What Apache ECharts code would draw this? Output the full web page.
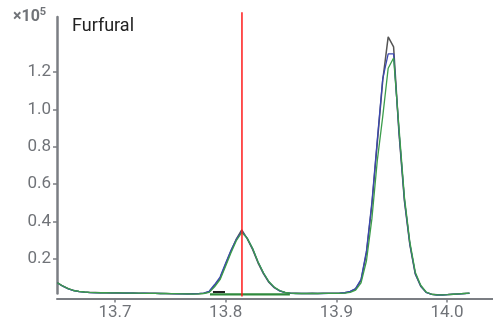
<!DOCTYPE html>
<html>
<head>
<meta charset="utf-8">
<script src="https://cdn.jsdelivr.net/npm/echarts@6/dist/echarts.min.js"></script>
<style>html,body{margin:0;padding:0;background:#fff}#c{width:493px;height:329px}</style>
</head>
<body>
<div id="c"></div>
<script>
const times = [13.6479,13.6528,13.6577,13.6626,13.6675,13.6724,13.6773,13.6822,13.6871,13.6920,13.6969,
13.7018,13.7067,13.7116,13.7165,13.7214,13.7263,13.7312,13.7361,13.7410,13.7459,
13.7508,13.7557,13.7606,13.7655,13.7704,13.7753,13.7802,13.7851,13.7900,13.7949,
13.7998,13.8047,13.8096,13.8145,13.8194,13.8243,13.8292,13.8341,13.8390,13.8439,
13.8488,13.8537,13.8586,13.8635,13.8684,13.8733,13.8782,13.8831,13.8880,13.8929,
13.8978,13.9027,13.9076,13.9125,13.9174,13.9223,13.9272,13.9321,13.9370,13.9419,
13.9468,13.9517,13.9566,13.9615,13.9664,13.9713,13.9762,13.9811,13.9860,13.9909,
13.9958,14.0007,14.0056,14.0105,14.0154,14.0203];

const traceBlack = [0.074,0.056,0.042,0.032,0.027,0.024,0.022,0.021,0.020,0.020,0.019,
0.020,0.019,0.018,0.019,0.018,0.017,0.018,0.017,0.016,0.016,
0.015,0.015,0.014,0.014,0.014,0.015,0.017,0.025,0.059,0.097,
0.170,0.242,0.307,0.356,0.309,0.251,0.180,0.122,0.076,0.047,
0.030,0.021,0.018,0.017,0.016,0.016,0.017,0.016,0.017,0.017,
0.018,0.018,0.020,0.026,0.040,0.086,0.233,0.489,0.824,1.156,
1.388,1.334,0.870,0.510,0.276,0.120,0.055,0.022,0.012,0.009,
0.009,0.010,0.012,0.014,0.016,0.018];

const traceBlue = [0.072,0.055,0.041,0.032,0.026,0.023,0.021,0.020,0.020,0.019,0.019,
0.019,0.018,0.019,0.018,0.017,0.018,0.017,0.017,0.016,0.015,
0.015,0.014,0.014,0.013,0.014,0.015,0.018,0.028,0.064,0.104,
0.176,0.246,0.305,0.347,0.312,0.256,0.184,0.125,0.078,0.048,
0.030,0.021,0.017,0.016,0.016,0.016,0.016,0.017,0.016,0.017,
0.017,0.018,0.020,0.027,0.043,0.092,0.245,0.505,0.840,1.165,
1.297,1.297,0.880,0.515,0.280,0.122,0.056,0.022,0.011,0.008,
0.008,0.010,0.012,0.013,0.015,0.017];

const traceGreen = [0.073,0.056,0.042,0.032,0.027,0.024,0.022,0.021,0.020,0.020,0.019,
0.019,0.019,0.018,0.018,0.018,0.017,0.017,0.017,0.016,0.016,
0.015,0.015,0.014,0.014,0.013,0.014,0.016,0.022,0.052,0.090,
0.160,0.233,0.298,0.342,0.312,0.258,0.186,0.127,0.080,0.050,
0.032,0.022,0.018,0.016,0.016,0.016,0.016,0.016,0.017,0.017,
0.017,0.017,0.018,0.022,0.034,0.073,0.191,0.416,0.728,0.963,
1.220,1.275,0.900,0.530,0.290,0.130,0.060,0.024,0.012,0.009,
0.009,0.010,0.012,0.014,0.016,0.018];

const greenBaseline = [[13.7858, 0.011], [13.8580, 0.011]];
const blackBaseline = [[13.7885, 0.024], [13.7994, 0.024]];
const markerTime = 13.8147;
const markerSpan = [0, 1.52];
const xTicks = [13.7, 13.8, 13.9, 14.0];
const yTicks = [0.2, 0.4, 0.6, 0.8, 1.0, 1.2];
const titleText = 'Furfural';

function pairs(ys){ return times.map((t,i)=>[t, ys[i]]); }

const axisGray = '#7b7e83';
const labelGray = '#707378';
const chart = echarts.init(document.getElementById('c'), null, {renderer:'canvas'});
chart.setOption({
  animation: false,
  backgroundColor: '#fff',
  title: [
    {text: titleText, left: 67, top: 12, textStyle: {fontFamily: 'Roboto', fontSize: 18, fontWeight: 'normal', color: '#222'}},
    {text: '{a|×10}{b|5}', left: 8, top: 2, textStyle: {rich: {
      a: {fontFamily: 'Roboto', fontSize: 16, color: labelGray},
      b: {fontFamily: 'Roboto', fontSize: 11, color: labelGray, verticalAlign: 'top', padding: [0,0,8,0]}
    }}}
  ],
  grid: {left: 57, right: 0, top: 17, bottom: 35.5, containLabel: false},
  xAxis: {
    type: 'value', min: 13.6476, max: 14.0415, offset: 5,
    axisLine: {onZero: false, lineStyle: {color: axisGray, width: 2}},
    axisTick: {show: true, length: 4, lineStyle: {color: axisGray, width: 1.5}, customValues: xTicks},
    axisLabel: {customValues: xTicks, formatter: v => v.toFixed(1), margin: 6, fontFamily: 'Roboto', fontSize: 17, color: labelGray},
    splitLine: {show: false}
  },
  yAxis: {
    type: 'value', min: 0.016, max: 1.494,
    axisLine: {show: true, lineStyle: {color: axisGray, width: 2.5}},
    axisTick: {show: true, length: 4, lineStyle: {color: axisGray, width: 1.5}, customValues: yTicks},
    axisLabel: {customValues: yTicks, formatter: v => v.toFixed(1), margin: 6, fontFamily: 'Roboto', fontSize: 17, color: labelGray},
    splitLine: {show: false}
  },
  series: [
    {type: 'line', data: pairs(traceBlack), symbol: 'none', clip: false, lineStyle: {color: '#555', width: 1.5}, z: 2},
    {type: 'line', data: pairs(traceBlue), symbol: 'none', clip: false, lineStyle: {color: '#3b47b0', width: 1.3}, z: 3},
    {type: 'line', data: pairs(traceGreen), symbol: 'none', clip: false, lineStyle: {color: '#3c9d4c', width: 1.3}, z: 4},
    {type: 'line', data: greenBaseline, symbol: 'none', clip: false, lineStyle: {color: '#2f8a3c', width: 2.2}, z: 5},
    {type: 'line', data: blackBaseline, symbol: 'none', clip: false, lineStyle: {color: '#222', width: 2}, z: 5},
    {type: 'line', data: [[markerTime, markerSpan[0]], [markerTime, markerSpan[1]]], symbol: 'none', clip: false, lineStyle: {color: '#ff1a1a', width: 1.5}, z: 6}
  ]
});
</script>
</body>
</html>
